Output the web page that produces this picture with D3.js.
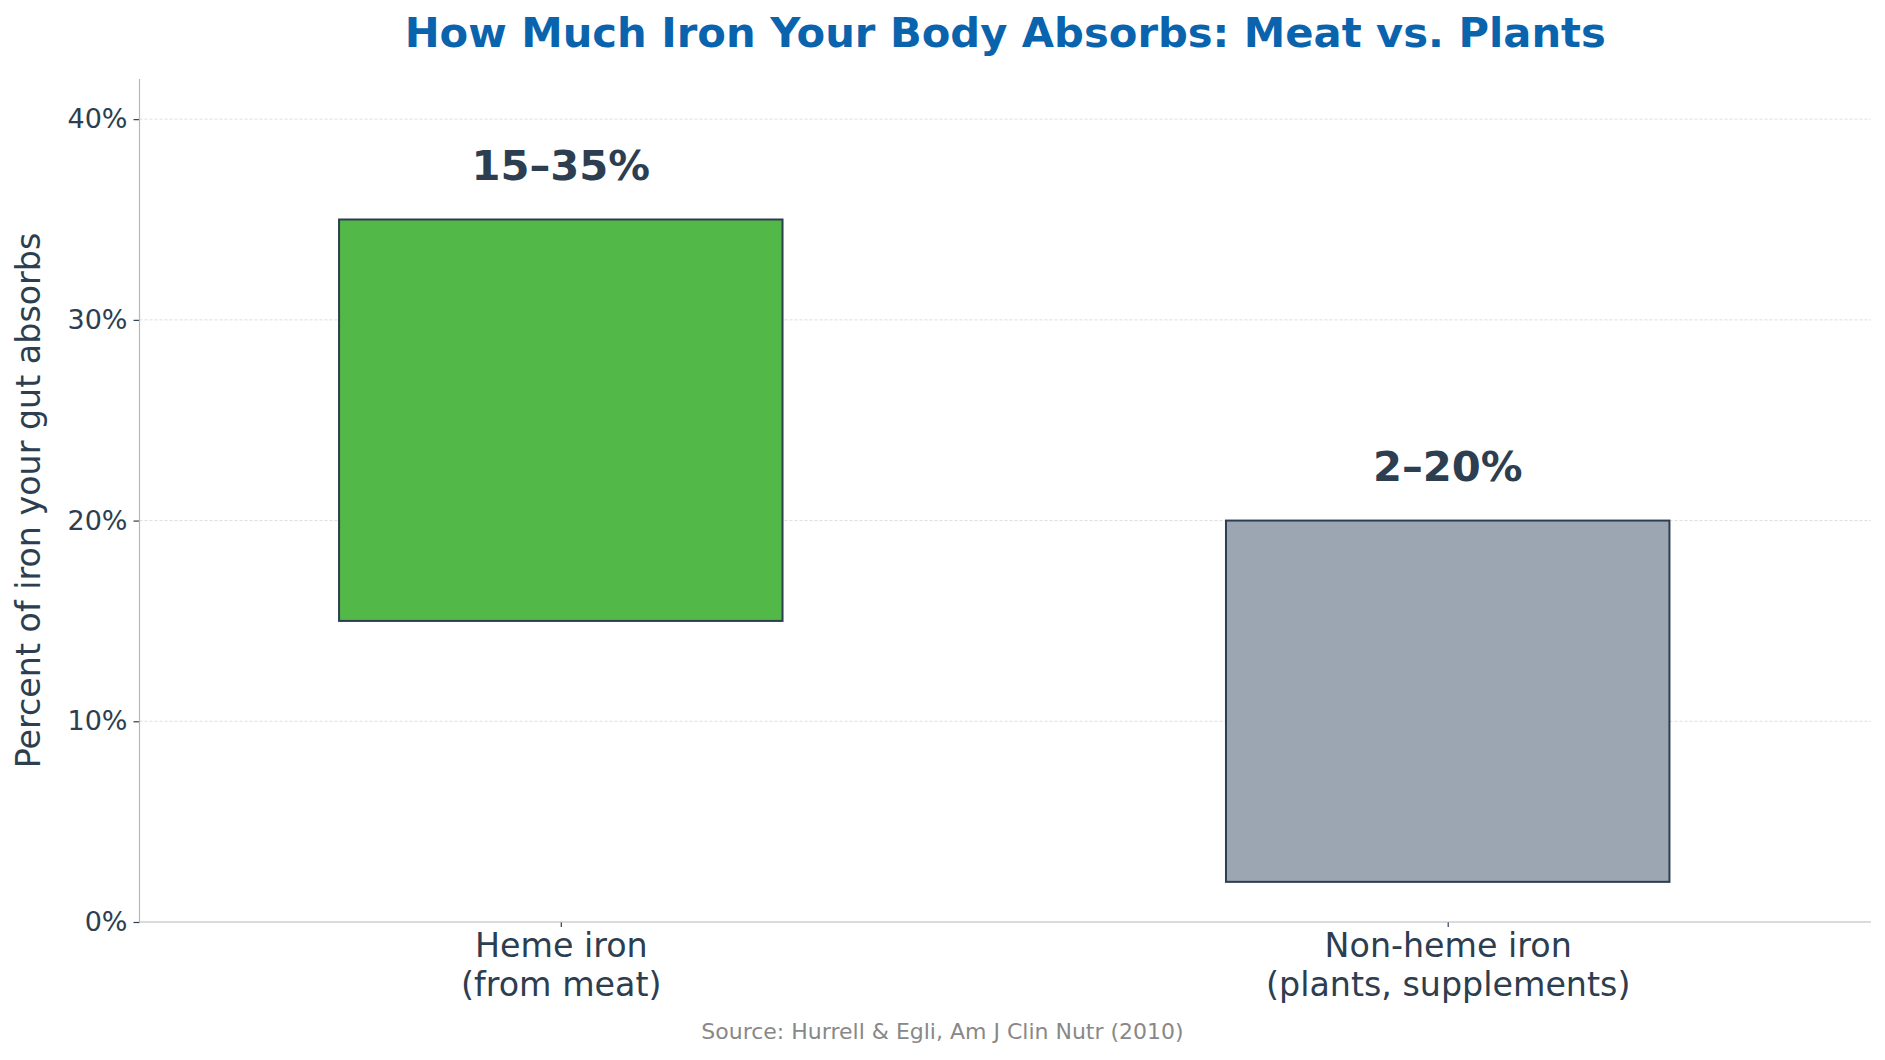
<!DOCTYPE html>
<html><head><meta charset="utf-8">
<script src="https://cdn.jsdelivr.net/npm/d3@7"></script>
<style>
html,body{margin:0;padding:0;background:#fff;}
svg{display:block;font-family:"DejaVu Sans",sans-serif;}
</style></head>
<body>
<svg id="chart" width="1885" height="1060"></svg>
<script>
const categories = ["Heme iron\n(from meat)", "Non-heme iron\n(plants, supplements)"];
const lowValues = [15, 2];
const highValues = [35, 20];
const valueLabels = ["15\u201335%", "2\u201320%"];
const barColors = ["#52b848", "#9ca6b2"];
const yTicks = [0, 10, 20, 30, 40];
const title = "How Much Iron Your Body Absorbs: Meat vs. Plants";
const yLabel = "Percent of iron your gut absorbs";
const source = "Source: Hurrell & Egli, Am J Clin Nutr (2010)";

const svg = d3.select("#chart");
const m = {left: 139.5, right: 1871, top: 79, bottom: 922};
const x = d3.scalePoint().domain(categories).range([m.left, 1869]).padding(0.475);
const y = d3.scaleLinear().domain([0, 42]).range([m.bottom, m.top]);
const bw = x.step() * 0.5;
const textColor = "#2c3e50";

// grid
svg.append("g").selectAll("line").data(yTicks.filter(d => d > 0)).join("line")
  .attr("x1", m.left).attr("x2", m.right)
  .attr("y1", d => y(d)).attr("y2", d => y(d))
  .attr("stroke", "#d6d6d6").attr("stroke-width", 0.8).attr("stroke-dasharray", "3,2");

// bars
const data = categories.map((c, i) => ({c, lo: lowValues[i], hi: highValues[i], label: valueLabels[i], color: barColors[i]}));
svg.append("g").selectAll("rect").data(data).join("rect")
  .attr("x", d => x(d.c) - bw / 2).attr("width", bw)
  .attr("y", d => y(d.hi)).attr("height", d => y(d.lo) - y(d.hi))
  .attr("fill", d => d.color).attr("stroke", textColor).attr("stroke-width", 2);

// value labels
svg.append("g").selectAll("text").data(data).join("text")
  .attr("x", d => x(d.c)).attr("y", d => y(d.hi) - 40)
  .attr("text-anchor", "middle").attr("font-weight", "bold")
  .attr("font-size", 41.7).attr("fill", textColor).text(d => d.label);

// y axis
const yAxis = svg.append("g").attr("transform", `translate(${m.left},0)`)
  .call(d3.axisLeft(y).tickValues(yTicks).tickFormat(d => d + "%").tickSize(6).tickPadding(6));
yAxis.select(".domain").remove();
yAxis.selectAll(".tick line").attr("stroke", textColor).attr("stroke-width", 1.2);
yAxis.selectAll(".tick text").attr("font-size", 27).attr("fill", textColor).attr("font-family", "DejaVu Sans");

// x axis
const xAxis = svg.append("g").attr("transform", `translate(0,${m.bottom})`)
  .call(d3.axisBottom(x).tickSize(5).tickFormat(""));
xAxis.select(".domain").remove();
xAxis.selectAll(".tick line").attr("stroke", textColor).attr("stroke-width", 1.2);
xAxis.selectAll(".tick").each(function(d) {
  const lines = d.split("\n");
  const t = d3.select(this).append("text").attr("text-anchor", "middle")
    .attr("font-size", 33.3).attr("fill", textColor).attr("font-family", "DejaVu Sans");
  lines.forEach((ln, i) => t.append("tspan").attr("x", 0).attr("y", 35 + i * 39).text(ln));
});

// spines
svg.append("line").attr("x1", m.left).attr("x2", m.left).attr("y1", m.top).attr("y2", m.bottom)
  .attr("stroke", "#b8b8b8").attr("stroke-width", 1.2);
svg.append("line").attr("x1", m.left).attr("x2", m.right).attr("y1", m.bottom).attr("y2", m.bottom)
  .attr("stroke", "#b8b8b8").attr("stroke-width", 1.2);

// title
svg.append("text").attr("x", (m.left + m.right) / 2).attr("y", 47)
  .attr("text-anchor", "middle").attr("font-weight", "bold").attr("font-size", 41.7)
  .attr("fill", "#0a64ad").text(title);

// y label
svg.append("text").attr("transform", `translate(40,${(m.top + m.bottom) / 2}) rotate(-90)`)
  .attr("text-anchor", "middle").attr("font-size", 33.3).attr("fill", textColor).text(yLabel);

// source
svg.append("text").attr("x", 942.5).attr("y", 1039).attr("text-anchor", "middle")
  .attr("font-size", 22).attr("fill", "#888888").text(source);
</script>
</body></html>
